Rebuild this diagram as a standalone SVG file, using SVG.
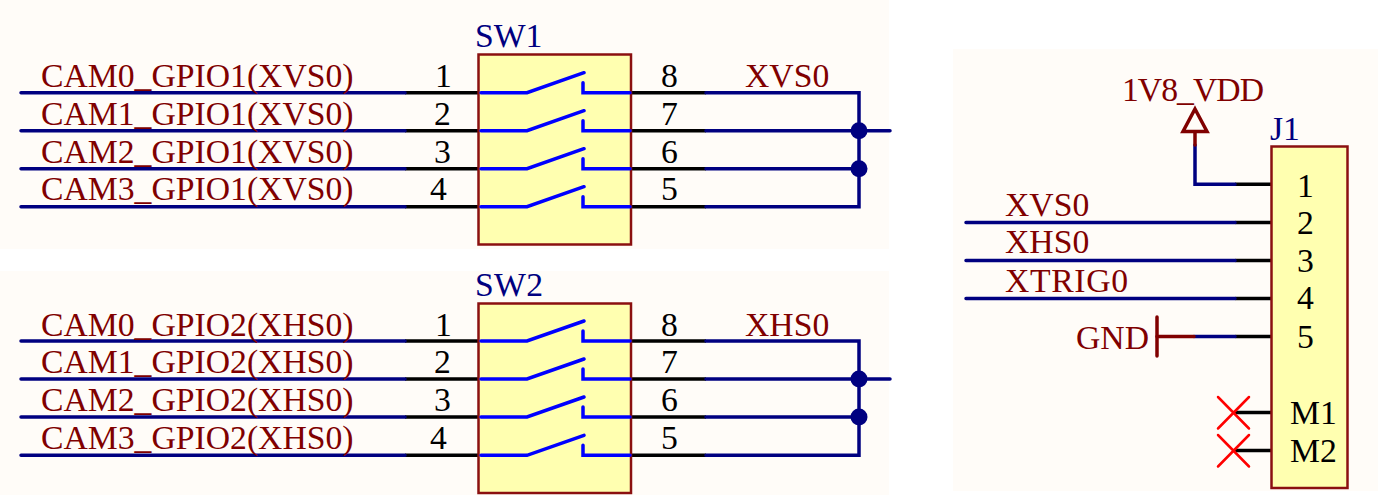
<svg xmlns="http://www.w3.org/2000/svg" xmlns:xlink="http://www.w3.org/1999/xlink" width="1378" height="495" viewBox="0 0 1378 495">
<style>
text{font-family:"Liberation Serif","Times New Roman",serif;font-size:33.7px}
.net{fill:#800000}.ref{fill:#000080}.pin{fill:#000}
.w{stroke:#000080;stroke-width:3.5;fill:none;stroke-linecap:round;stroke-linejoin:miter}
.p{stroke:#000;stroke-width:3.5;fill:none}
.r{stroke:#800000;stroke-width:3.5;fill:none;stroke-linecap:round}
.c{stroke:#0000ff;stroke-width:3.5;fill:none;stroke-linecap:round}
.body{fill:#ffffb0;stroke:#8b1010;stroke-width:2.5}
.x{stroke:#ff0000;stroke-width:2.5;fill:none;stroke-linecap:round}
</style>
<defs>
<g id="contact"><path class="c" d="M481 0H527L584 -20M583 -10V0H630"/></g>
</defs>
<rect x="0" y="0" width="889" height="249" fill="#fffcf8"/>
<rect x="0" y="271" width="889" height="224" fill="#fffcf8"/>
<rect x="953" y="49" width="425" height="442" fill="#fffcf8"/>
<g id="connectors">
<path class="p" d="M405 92.7H479M405 130.7H479M405 168.7H479M405 206.7H479M631 92.7H706M631 130.7H706M631 168.7H706M631 206.7H706"/>
<path class="w" d="M21 92.7H405M21 130.7H405M21 168.7H405M21 206.7H405M706 92.7H859V206.7H706M706 130.7H890M706 168.7H859"/>
<circle cx="859" cy="130.7" r="8.5" fill="#000080"/><circle cx="859" cy="168.7" r="8.5" fill="#000080"/>
<path class="p" d="M405 341H479M405 379H479M405 417H479M405 455.3H479M631 341H706M631 379H706M631 417H706M631 455.3H706"/>
<path class="w" d="M21 341H405M21 379H405M21 417H405M21 455.3H405M706 341H859V455.3H706M706 379H890M706 417H859"/>
<circle cx="859" cy="379" r="8.5" fill="#000080"/><circle cx="859" cy="417" r="8.5" fill="#000080"/>
<path class="p" d="M1235 184.3H1271M1235 222.5H1271M1235 260.5H1271M1235 298.4H1271M1235 336.4H1271M1234 412.4H1271M1234 450.4H1271"/>
<path class="w" d="M1195 145V184.3H1235M966 222.5H1235M966 260.5H1235M966 298.4H1235M1194 336.4H1235"/>
<path class="r" d="M1195 132V145M1157 336.4H1194"/>
</g>
<g id="SW1">
<rect class="body" x="478.5" y="54.5" width="152.5" height="190"/>
<use xlink:href="#contact" href="#contact" y="92.7"/><use xlink:href="#contact" href="#contact" y="130.7"/><use xlink:href="#contact" href="#contact" y="168.7"/><use xlink:href="#contact" href="#contact" y="206.7"/>
<text class="ref" x="475" y="47">SW1</text>
<text class="pin" x="435" y="87">1</text><text class="pin" x="434" y="125">2</text><text class="pin" x="434" y="163">3</text><text class="pin" x="430" y="200">4</text>
<text class="pin" x="661" y="87">8</text><text class="pin" x="661" y="125">7</text><text class="pin" x="661" y="163">6</text><text class="pin" x="661" y="200">5</text>
</g>
<g id="SW2">
<rect class="body" x="478.5" y="303.5" width="152.5" height="189.5"/>
<use xlink:href="#contact" href="#contact" y="341"/><use xlink:href="#contact" href="#contact" y="379"/><use xlink:href="#contact" href="#contact" y="417"/><use xlink:href="#contact" href="#contact" y="455.3"/>
<text class="ref" x="475" y="296" textLength="68">SW2</text>
<text class="pin" x="435" y="336">1</text><text class="pin" x="434" y="373">2</text><text class="pin" x="434" y="411">3</text><text class="pin" x="430" y="449">4</text>
<text class="pin" x="661" y="336">8</text><text class="pin" x="661" y="373">7</text><text class="pin" x="661" y="411">6</text><text class="pin" x="661" y="449">5</text>
</g>
<g id="J1">
<rect class="body" x="1271.5" y="146.5" width="76" height="341.5"/>
<text class="ref" x="1270" y="140">J1</text>
<text class="pin" x="1297" y="197">1</text><text class="pin" x="1297" y="234">2</text><text class="pin" x="1297" y="272">3</text><text class="pin" x="1297" y="309">4</text><text class="pin" x="1297" y="348">5</text>
<text class="pin" x="1290" y="424">M1</text><text class="pin" x="1290" y="462">M2</text>
</g>
<g id="labels-left">
<text class="net" x="41" y="87">CAM0_GPIO1(XVS0)</text><text class="net" x="41" y="125">CAM1_GPIO1(XVS0)</text><text class="net" x="41" y="163">CAM2_GPIO1(XVS0)</text><text class="net" x="41" y="200">CAM3_GPIO1(XVS0)</text>
<text class="net" x="745" y="87">XVS0</text>
<text class="net" x="41" y="336">CAM0_GPIO2(XHS0)</text><text class="net" x="41" y="373">CAM1_GPIO2(XHS0)</text><text class="net" x="41" y="411">CAM2_GPIO2(XHS0)</text><text class="net" x="41" y="449">CAM3_GPIO2(XHS0)</text>
<text class="net" x="745" y="336">XHS0</text>
</g>
<g id="labels-right">
<text class="net" x="1005" y="216">XVS0</text><text class="net" x="1005" y="253">XHS0</text><text class="net" x="1005" y="292" textLength="123">XTRIG0</text>
</g>
<g id="VDD">
<text class="net" x="1122" y="101" textLength="142">1V8_VDD</text>
<path class="r" d="M1195 109L1207 131.5H1183Z"/>
</g>
<g id="GND">
<text class="net" x="1076" y="349">GND</text>
<path class="r" d="M1157 317V356"/>
</g>
<g id="NC">
<path class="x" d="M1218 397L1249 428.5M1249 397L1218 428.5M1218 435L1249 466.5M1249 435L1218 466.5"/>
</g>
</svg>
